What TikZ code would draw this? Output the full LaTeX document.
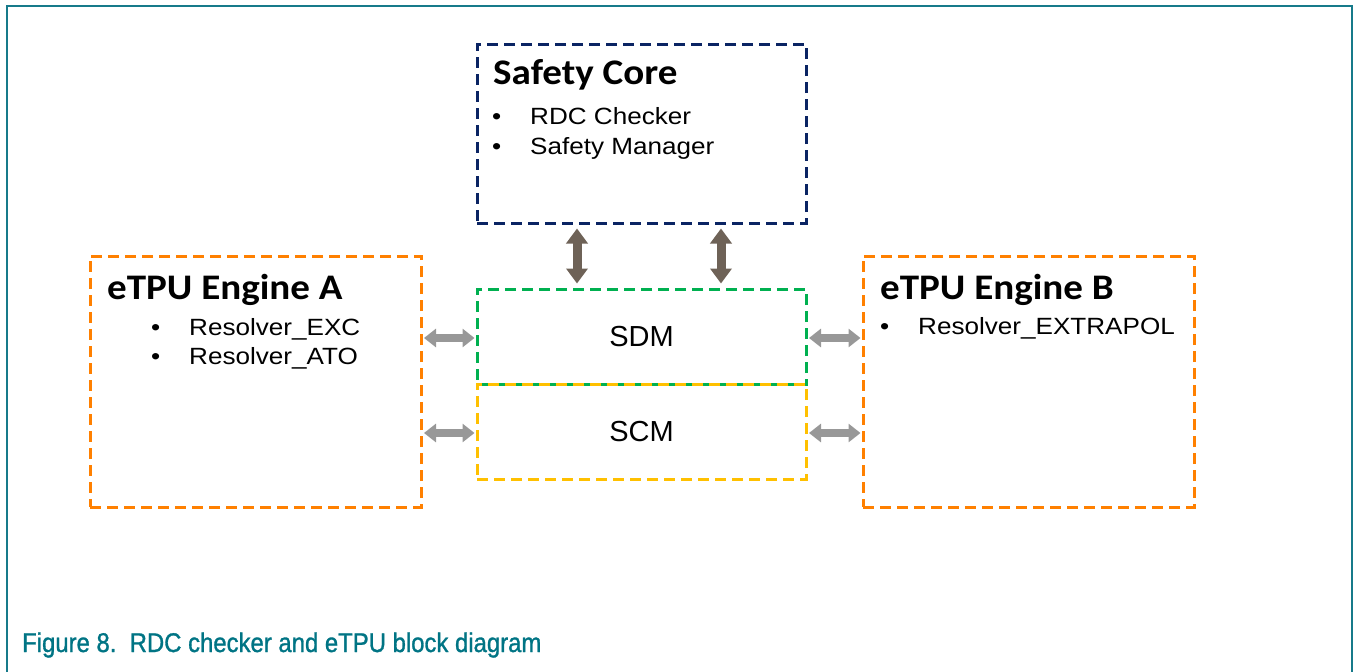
\documentclass[tikz,border=0pt]{standalone}
\usepackage{fontspec}
\setmainfont{Liberation Sans}
\newfontfamily\titlefont{Carlito}
\newfontfamily\capfont[FakeBold=1.2]{Liberation Sans}
\usetikzlibrary{arrows.meta}
\definecolor{navyc}{HTML}{0A2463}
\definecolor{orangec}{RGB}{255,128,0}
\definecolor{greenc}{HTML}{00B050}
\definecolor{yellowc}{HTML}{FFC000}
\definecolor{darkarrow}{RGB}{110,98,87}
\definecolor{grayarrow}{RGB}{152,152,152}
\definecolor{framec}{RGB}{22,122,138}
\definecolor{captionc}{RGB}{0,116,132}
\tikzset{
  box/.style={draw=#1, line width=3pt, dash pattern=on 11pt off 6pt, inner sep=0pt},
  ttl/.style={font=\titlefont\bfseries\fontsize{36}{40}\selectfont, inner sep=0pt, anchor=base west, xscale=1.085},
  txt/.style={font=\fontsize{23.5}{28}\selectfont, inner sep=0pt, anchor=base west, xscale=1.11},
  ctxt/.style={font=\fontsize{29}{32}\selectfont},
  varrow/.style={draw=darkarrow, line width=9pt, {Triangle[width=21pt,length=15pt]}-{Triangle[width=21pt,length=15pt]}, shorten <=4pt, shorten >=4pt},
  harrow/.style={draw=grayarrow, line width=8pt, {Triangle[width=18pt,length=12pt]}-{Triangle[width=18pt,length=12pt]}, shorten <=1.5pt, shorten >=1pt},
}
\begin{document}
\begin{tikzpicture}[x=1pt,y=-1pt]
\useasboundingbox (0,0) rectangle (1353,672);
\draw[framec, line width=2.2pt] (7,672) -- (7,6) -- (1352,6) -- (1352,672);

% boxes
\node[box=navyc, minimum width=329pt, minimum height=179pt] (sc) at (641.5,133.5) {};
\node[box=orangec, minimum width=331pt, minimum height=251pt] (ea) at (255.5,381.5) {};
\node[box=orangec, minimum width=331pt, minimum height=251pt] (eb) at (1028.5,381.5) {};
\node[box=greenc, minimum width=329pt, minimum height=95pt] (sdm) at (641.5,336.5) {};
\node[box=yellowc, minimum width=329pt, minimum height=95pt] (scm) at (641.5,431.5) {};
\node[ctxt] (sdmt) at (sdm.center) {SDM};
\node[ctxt] (scmt) at (scm.center) {SCM};

% texts
\node[ttl] (sct) at (493,84) {Safety Core};
\node[txt] (scb1) at (492,124) {•};
\node[txt] (sc1) at (530,124) {RDC Checker};
\node[txt] (scb2) at (492,154) {•};
\node[txt] (sc2) at (530,154) {Safety Manager};

\node[ttl] (eat) at (107,299) {eTPU Engine A};
\node[txt] (eab1) at (151,335) {•};
\node[txt] (ea1) at (189,335) {Resolver\_EXC};
\node[txt] (eab2) at (151,364) {•};
\node[txt] (ea2) at (189,364) {Resolver\_ATO};

\node[ttl] (ebt) at (880,299) {eTPU Engine B};
\node[txt] (ebb1) at (880,334) {•};
\node[txt] (eb1) at (918,334) {Resolver\_EXTRAPOL};

% arrows
\coordinate (v1) at (577,0);
\coordinate (v2) at (721,0);
\coordinate (h1) at (0,338);
\coordinate (h2) at (0,433);
\draw[varrow] (sc.south -| v1) -- (sdm.north -| v1);
\draw[varrow] (sc.south -| v2) -- (sdm.north -| v2);
\draw[harrow] (ea.east |- h1) -- (sdm.west |- h1);
\draw[harrow] (ea.east |- h2) -- (scm.west |- h2);
\draw[harrow] (sdm.east |- h1) -- (eb.west |- h1);
\draw[harrow] (scm.east |- h2) -- (eb.west |- h2);

% caption
\node[font=\capfont\fontsize{27}{30}\selectfont, text=captionc, inner sep=0pt, anchor=base west, xscale=0.885] (cap) at (22,652) {Figure 8.\ \ RDC checker and eTPU block diagram};
\end{tikzpicture}
\end{document}
